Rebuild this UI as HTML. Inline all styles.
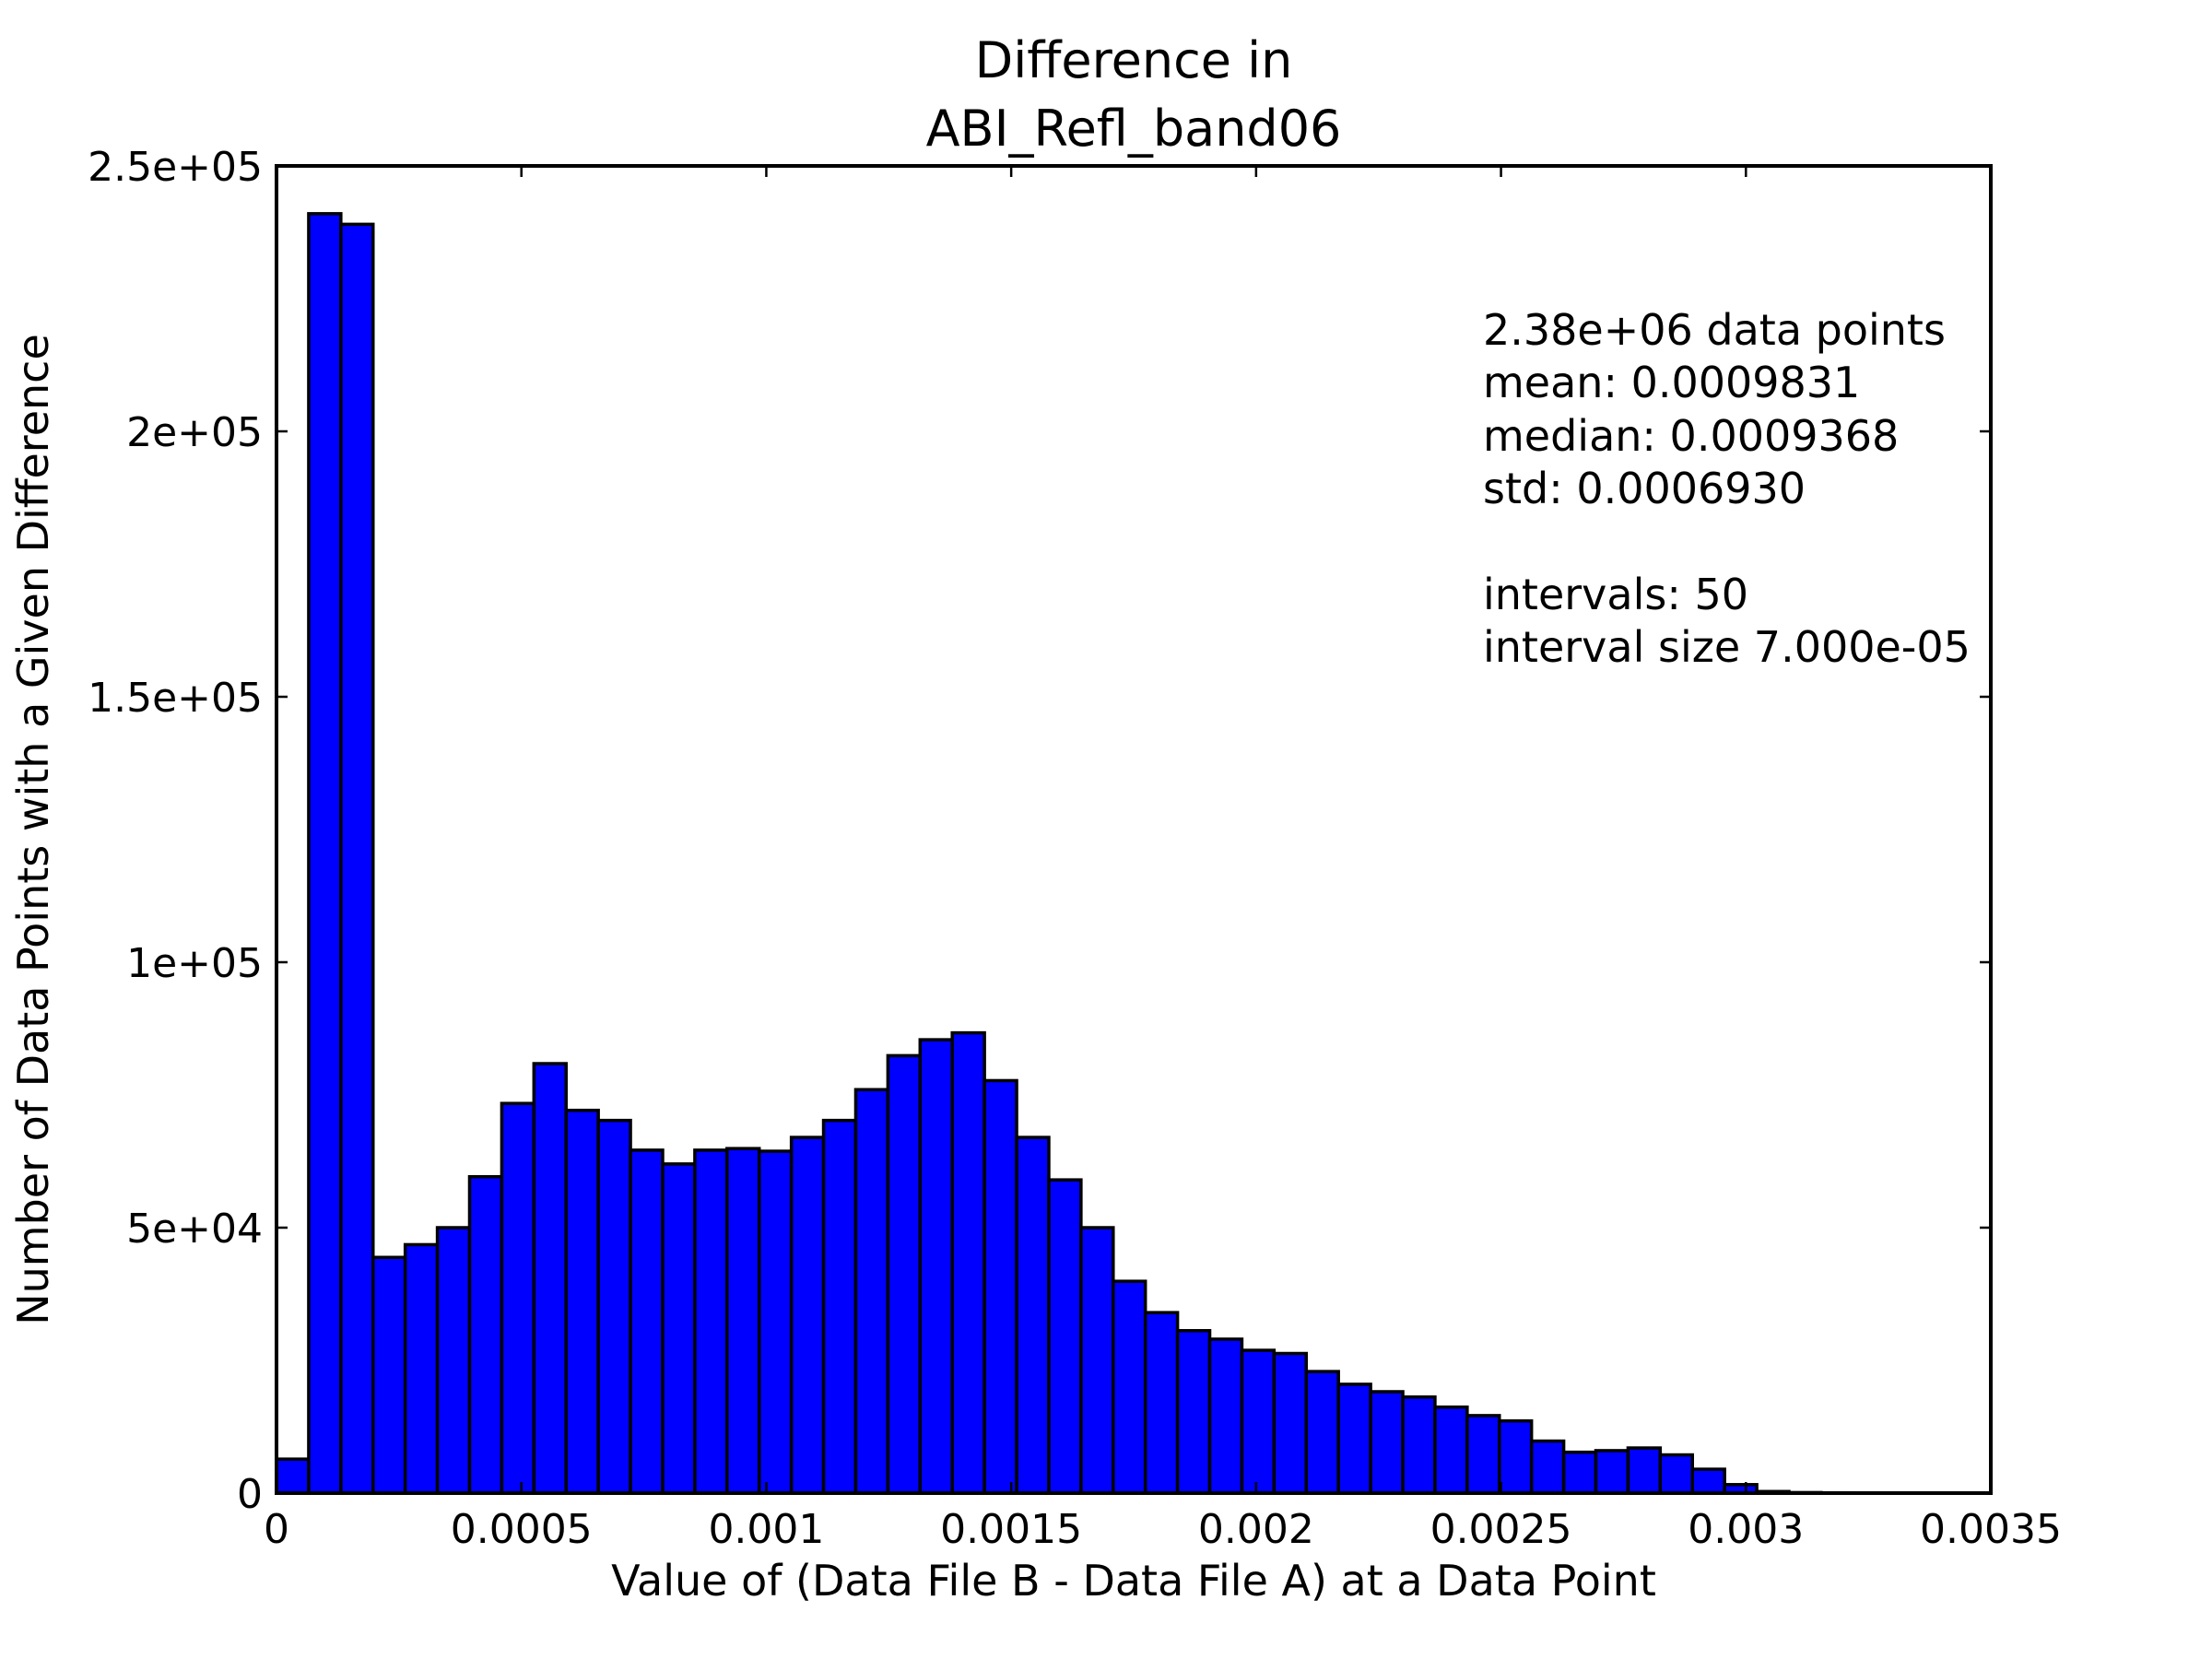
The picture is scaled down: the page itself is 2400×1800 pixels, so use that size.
<!DOCTYPE html>
<html><head><meta charset="utf-8"><style>
html,body{margin:0;padding:0;background:#fff;width:2400px;height:1800px;overflow:hidden}
text{font-family:"DejaVu Sans","Liberation Sans",sans-serif;fill:#000}
</style></head><body>
<svg id="chart" width="2400" height="1800" xmlns="http://www.w3.org/2000/svg">
<text x="1230" y="84" font-size="54" text-anchor="middle">Difference in</text>
<text x="1230" y="158" font-size="54" text-anchor="middle">ABI_Refl_band06</text>
<g id="bars"></g>
<g id="ticks"></g>
<rect x="300" y="180" width="1860" height="1440" fill="none" stroke="#000" stroke-width="4"/>
<text x="1230" y="1731" font-size="46" text-anchor="middle">Value of (Data File B - Data File A) at a Data Point</text>
<text x="0" y="0" font-size="46" text-anchor="middle" transform="translate(52,900) rotate(-90)">Number of Data Points with a Given Difference</text>
<g font-size="46">
<text x="1609" y="374">2.38e+06 data points</text>
<text x="1609" y="431">mean: 0.0009831</text>
<text x="1609" y="489">median: 0.0009368</text>
<text x="1609" y="546">std: 0.0006930</text>
<text x="1609" y="661">intervals: 50</text>
<text x="1609" y="718">interval size 7.000e-05</text>
</g>
</svg>
<script>
const counts=[6400,241000,239000,44400,46800,50000,59600,73400,80900,72100,70200,64600,62000,64600,64900,64400,67000,70200,76000,82400,85400,86700,77700,67000,59000,50000,39900,34000,30600,29000,26900,26300,22900,20500,19100,18100,16200,14600,13600,9800,7700,8000,8500,7200,4500,1600,300,100,50,20];
const binStart=0;
const binWidth=0.0000657;
const xTicks=[0,0.0005,0.001,0.0015,0.002,0.0025,0.003,0.0035];
const xTickLabels=["0","0.0005","0.001","0.0015","0.002","0.0025","0.003","0.0035"];
const yTicks=[0,50000,100000,150000,200000,250000];
const yTickLabels=["0","5e+04","1e+05","1.5e+05","2e+05","2.5e+05"];
const L=300,R=2160,T=180,B=1620;
const xMax=0.0035,yMax=250000;
const X=v=>L+v/xMax*(R-L);
const Y=v=>B-v/yMax*(B-T);
const NS="http://www.w3.org/2000/svg";
const bars=document.getElementById('bars');
counts.forEach((c,i)=>{
  const x0=X(binStart+i*binWidth),x1=X(binStart+(i+1)*binWidth);
  const r=document.createElementNS(NS,'rect');
  r.setAttribute('x',x0);r.setAttribute('y',Y(c));
  r.setAttribute('width',x1-x0);r.setAttribute('height',B-Y(c));
  r.setAttribute('fill','#0000ff');r.setAttribute('stroke','#000');r.setAttribute('stroke-width','3.5');
  
  
  bars.appendChild(r);
});
const tg=document.getElementById('ticks');
function line(x1,y1,x2,y2){const l=document.createElementNS(NS,'line');
l.setAttribute('x1',x1);l.setAttribute('y1',y1);l.setAttribute('x2',x2);l.setAttribute('y2',y2);
l.setAttribute('stroke','#000');l.setAttribute('stroke-width','2.5');


tg.appendChild(l);}
xTicks.forEach((v,i)=>{
  const x=X(v);line(x,B,x,B-12);line(x,T,x,T+12);
  const t=document.createElementNS(NS,'text');
  t.setAttribute('x',x);t.setAttribute('y',1674);t.setAttribute('font-size','44');t.setAttribute('text-anchor','middle');
  t.textContent=xTickLabels[i];
  
  
  tg.appendChild(t);
});
yTicks.forEach((v,i)=>{
  const y=Y(v);line(L,y,L+12,y);line(R,y,R-12,y);
  const t=document.createElementNS(NS,'text');
  t.setAttribute('x',285);t.setAttribute('y',y+16);t.setAttribute('font-size','44');t.setAttribute('text-anchor','end');
  t.textContent=yTickLabels[i];
  
  
  tg.appendChild(t);
});
</script>
</body></html>
